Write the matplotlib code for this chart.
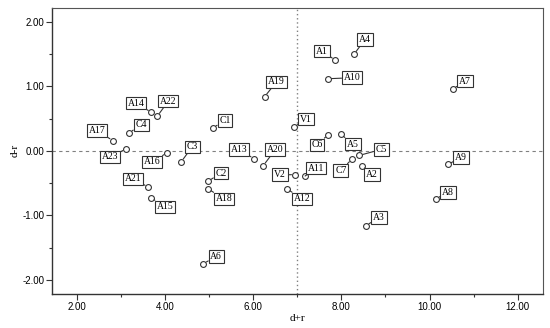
import matplotlib
matplotlib.use('Agg')
import matplotlib.pyplot as plt
from matplotlib.ticker import MultipleLocator, FormatStrFormatter

# point names and coordinates
names = ['A1', 'A4', 'A10', 'A7', 'V1', 'C6', 'A5', 'A19', 'A14', 'A22',
         'C4', 'A17', 'A23', 'C1', 'A16', 'C3', 'A13', 'A20', 'V2', 'A11',
         'A12', 'C2', 'A18', 'C7', 'C5', 'A2', 'A9', 'A8', 'A3', 'A6',
         'A21', 'A15']
d_plus_r = [7.86, 8.29, 7.70, 10.53, 6.93, 7.70, 7.99, 6.26, 3.69, 3.83,
            3.19, 2.82, 3.12, 5.09, 4.05, 4.37, 6.02, 6.23, 6.95, 7.18,
            6.77, 4.98, 4.98, 8.24, 8.41, 8.47, 10.42, 10.15, 8.56, 4.87,
            3.62, 3.69]
d_minus_r = [1.41, 1.50, 1.12, 0.96, 0.37, 0.25, 0.26, 0.84, 0.60, 0.54,
             0.28, 0.16, 0.03, 0.36, -0.03, -0.17, -0.12, -0.23, -0.37, -0.39,
             -0.59, -0.47, -0.59, -0.13, -0.07, -0.23, -0.21, -0.74, -1.16, -1.75,
             -0.56, -0.73]

# label box offsets from each point, in pixels (x right, y up)
label_offset = {
    'A1': (-13, 9), 'A4': (11, 15), 'A10': (24, 1), 'A7': (12, 8),
    'V1': (12, 8), 'C6': (-11, -10), 'A5': (12, -10), 'A19': (12, 15),
    'A14': (-15, 9), 'A22': (11, 15), 'C4': (12, 8), 'A17': (-16, 10),
    'A23': (-16, -8), 'C1': (12, 7), 'A16': (-15, -9), 'C3': (11, 15),
    'A13': (-15, 9), 'A20': (12, 16), 'V2': (-15, 0), 'A11': (11, 8),
    'A12': (15, -10), 'C2': (13, 8), 'A18': (16, -10), 'C7': (-11, -11),
    'C5': (22, 6), 'A2': (10, -9), 'A9': (13, 7), 'A8': (12, 6),
    'A3': (13, 8), 'A6': (13, 7), 'A21': (-15, 8), 'A15': (14, -9),
}

serif = ['Liberation Serif', 'DejaVu Serif']
sans = ['Liberation Sans', 'DejaVu Sans']

fig = plt.figure(figsize=(5.5, 3.28), dpi=100)
ax = fig.add_axes([0.0945, 0.104, 0.8925, 0.872])

ax.axhline(0, color='#808080', linestyle=(0, (3, 3)), linewidth=0.8, zorder=1)
ax.axvline(7, color='#808080', linestyle=(0, (1, 2)), linewidth=1.0, zorder=1)

ax.plot(d_plus_r, d_minus_r, linestyle='none', marker='o', markersize=4.2,
        markerfacecolor='white', markeredgecolor='#333333', markeredgewidth=0.8,
        zorder=3)

for name, x, y in zip(names, d_plus_r, d_minus_r):
    dx, dy = label_offset[name]
    ax.annotate(name, xy=(x, y), xytext=(dx, dy), textcoords='offset pixels',
                ha='center', va='center', fontsize=7, family=serif,
                bbox=dict(boxstyle='square,pad=0.18', facecolor='white',
                          edgecolor='#333333', linewidth=0.8),
                arrowprops=dict(arrowstyle='-', color='#333333', linewidth=0.8,
                                shrinkA=0, shrinkB=2.5),
                zorder=4)

ax.set_xlim(1.44, 12.57)
ax.set_ylim(-2.22, 2.22)
ax.xaxis.set_major_locator(MultipleLocator(2))
ax.xaxis.set_minor_locator(MultipleLocator(1))
ax.yaxis.set_major_locator(MultipleLocator(1))
ax.yaxis.set_minor_locator(MultipleLocator(0.5))
ax.xaxis.set_major_formatter(FormatStrFormatter('%.2f'))
ax.yaxis.set_major_formatter(FormatStrFormatter('%.2f'))
ax.tick_params(which='major', direction='out', length=4, width=0.8,
               color='#333333', labelsize=7, pad=1.5)
ax.tick_params(which='minor', direction='out', length=2, width=0.8,
               color='#333333')
for lbl in ax.get_xticklabels() + ax.get_yticklabels():
    lbl.set_family(sans)

for side in ['left', 'bottom']:
    ax.spines[side].set_color('#333333')
    ax.spines[side].set_linewidth(1.0)
for side in ['top', 'right']:
    ax.spines[side].set_color('#555555')
    ax.spines[side].set_linewidth(0.8)

ax.set_xlabel('d+r', fontsize=8, family=serif, labelpad=2)
ax.set_ylabel('d-r', fontsize=8, family=serif, labelpad=2)

fig.savefig('out.png', dpi=100)
